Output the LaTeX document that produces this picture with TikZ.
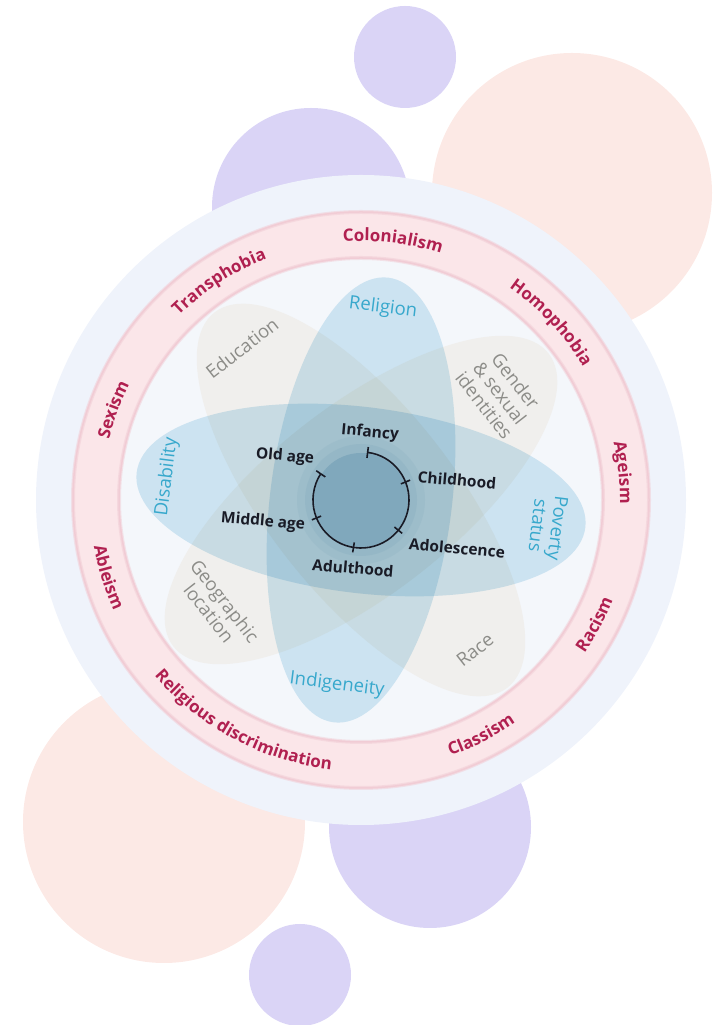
\documentclass[tikz,border=0pt]{standalone}
\usepackage{fontspec}
\setmainfont{Open Sans}
\usepackage{xcolor}
\usepackage{tikz}
\usetikzlibrary{arrows.meta}
\usetikzlibrary{decorations.text}

\definecolor{lavender}{RGB}{218,212,246}
\definecolor{peach}{RGB}{252,233,229}
\definecolor{outerband}{RGB}{239,243,251}
\definecolor{ringpink}{RGB}{251,230,233}
\definecolor{ringedge}{RGB}{241,204,213}
\definecolor{innerwhite}{RGB}{244,247,251}
\definecolor{petalblue}{RGB}{214,235,245}
\definecolor{petalbeige}{RGB}{251,247,241}
\definecolor{diskblue}{RGB}{128,168,188}
\definecolor{ringred}{RGB}{176,32,80}
\definecolor{labelblue}{RGB}{55,168,204}
\definecolor{labelgray}{RGB}{140,140,136}
\definecolor{lifeink}{RGB}{25,27,38}

\newcommand{\ringfont}{\fontsize{17}{17}\selectfont\bfseries\color{ringred}}

\tikzset{
	ring text/.style={decorate,decoration={text along path,text align=center,text={|\ringfont|#1}}},
	petal label/.style={font=\fontsize{18.5}{20}\selectfont,align=center},
	life label/.style={font=\fontsize{15.5}{16}\selectfont\bfseries,text=lifeink,rotate=-5},
}

\begin{document}
\begin{tikzpicture}[x=1pt,y=1pt]
	\useasboundingbox (0,0) rectangle (718,1025);
	% bubbles behind the wheel
	\fill[lavender] (405,968) circle (51);
	\fill[lavender] (311,818) circle (99);
	\fill[peach] (572,832) circle (140);
	\fill[peach] (164,203) circle (141);
	\fill[lavender] (430,198) circle (101);
	\fill[lavender] (300,50) circle (51);

	\begin{scope}[shift={(361,525)}]
	% wheel: outer band, pink ring, inner area
	\fill[outerband] (0,0) circle (325);
	\fill[ringpink] (0,0) circle (289);
	\draw[ringedge,line width=4,opacity=0.5] (0,0) circle (288);
	\draw[ringedge,line width=1.5] (0,0) circle (288);
	\fill[innerwhite] (0,0) circle (241);
	\draw[ringedge,line width=4,opacity=0.5] (0,0) circle (242);
	\draw[ringedge,line width=1.5] (0,0) circle (242);

	% the four long petals
	\begin{scope}[blend mode=multiply]
		\fill[petalblue,rotate=-7] (0,0) ellipse [x radius=226, y radius=93];
		\fill[petalbeige,rotate=38] (0,0) ellipse [x radius=238, y radius=94];
		\fill[petalblue,rotate=83] (0,0) ellipse [x radius=224, y radius=91];
		\fill[petalbeige,rotate=128] (0,0) ellipse [x radius=238, y radius=94];
	\end{scope}

	% centre disk
	\fill[diskblue,opacity=0.18] (0,0) circle (64);
	\fill[diskblue,opacity=0.25] (0,0) circle (56);
	\fill[diskblue] (0,0) circle (47);

	% life course
	\draw[lifeink,line width=1.6,{Bar[width=11pt]}-{Bar[width=11pt]}] (83:48) arc[start angle=83,end angle=-214,radius=48];
	\foreach \a in {22,-39,-99,-158}
		\draw[lifeink,line width=1.6] (\a:43) -- (\a:53);

	\node[life label] (infancy) at (9,67) {Infancy};
	\node[life label] (childhood) at (96,20) {Childhood};
	\node[life label] (adolescence) at (96,-48) {Adolescence};
	\node[life label] (adulthood) at (-8,-68) {Adulthood};
	\node[life label] (middleage) at (-98,-22) {Middle age};
	\node[life label] (oldage) at (-76,43) {Old age};

	% petal names
	\node[petal label,text=labelblue,rotate=-7] (religion) at (22,192) {Religion};
	\node[petal label,text=labelgray,rotate=38] (education) at (-119,152) {Education};
	\node[petal label,text=labelgray,rotate=-52] (gender) at (139,107) {Gender\\\& sexual\\identities};
	\node[petal label,text=labelblue,rotate=83] (disability) at (-194,23) {Disability};
	\node[petal label,text=labelblue,rotate=-97] (poverty) at (187,-27) {Poverty\\status};
	\node[petal label,text=labelgray,rotate=-52] (geographic) at (-144,-107) {Geographic\\location};
	\node[petal label,text=labelgray,rotate=38] (race) at (114,-150) {Race};
	\node[petal label,text=labelblue,rotate=-7] (indigeneity) at (-24,-185) {Indigeneity};

	% words round the ring, clockwise on top, anticlockwise below
	\path[ring text=Transphobia] (163:259) arc[start angle=163,end angle=83,radius=259];
	\path[ring text=Colonialism] (123:259) arc[start angle=123,end angle=43,radius=259];
	\path[ring text=Homophobia] (83:259) arc[start angle=83,end angle=3,radius=259];
	\path[ring text=Ageism] (46:259) arc[start angle=46,end angle=-34,radius=259];
	\path[ring text=Sexism] (200:259) arc[start angle=200,end angle=120,radius=259];
	\path[ring text=Racism] (-68:271) arc[start angle=-68,end angle=12,radius=271];
	\path[ring text=Classism] (-103:271) arc[start angle=-103,end angle=-23,radius=271];
	\path[ring text=Religious discrimination] (-163:271) arc[start angle=-163,end angle=-73,radius=271];
	\path[ring text=Ableism] (-203:271) arc[start angle=-203,end angle=-123,radius=271];
	\end{scope}
\end{tikzpicture}
\end{document}
